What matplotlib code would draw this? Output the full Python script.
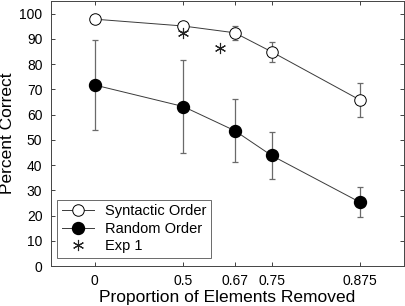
import numpy as np
import matplotlib
matplotlib.use("Agg")
import matplotlib.pyplot as plt

plt.rcParams['font.family'] = ['Liberation Sans', 'DejaVu Sans']

# data
proportion = [0, 0.5, 2 / 3, 0.75, 0.875]
tick_labels = ['0', '0.5', '0.67', '0.75', '0.875']

syntactic = [97.8, 95.1, 92.4, 84.9, 65.8]
syntactic_err = [0.0, 0.0, 2.8, 4.0, 6.6]

random_order = [71.7, 63.2, 53.6, 43.8, 25.3]
random_err = [18.0, 18.4, 12.4, 9.3, 6.0]

exp1_x = [0.5, 0.625]
exp1_y = [92.5, 86.5]


# x axis is spaced by halvings of what is left: -log2(1 - p)
def halvings(p):
    return -np.log2(1 - np.asarray(p, dtype=float))


xs = halvings(proportion)
xe = halvings(exp1_x)

fig = plt.figure(figsize=(4.06, 3.06), dpi=100)
ax = fig.add_axes([0.1249, 0.1307, 0.8702, 0.866])

line_col = '#3a3a3a'
err_col = '#6a6a6a'

ax.errorbar(xs, syntactic, yerr=syntactic_err, fmt='none',
            ecolor=err_col, elinewidth=0.9, capsize=2.5, capthick=0.9, zorder=2)
ax.errorbar(xs, random_order, yerr=random_err, fmt='none',
            ecolor=err_col, elinewidth=0.9, capsize=2.5, capthick=0.9, zorder=2)

ax.plot(xs, syntactic, '-o', color=line_col, lw=0.7,
        mfc='white', mec='black', mew=0.7, ms=8.3, label='Syntactic Order', zorder=3)
ax.plot(xs, random_order, '-o', color=line_col, lw=0.7,
        mfc='black', mec='black', ms=8.6, label='Random Order', zorder=3)
ax.plot(xe, exp1_y, linestyle='none', marker=(6, 2, 0), color='#222222',
        ms=8, mew=0.8, label='Exp 1', zorder=4)

ax.set_xlim(-0.5, 3.5)
ax.set_ylim(0, 105)
ax.set_xticks(xs)
ax.set_xticklabels(tick_labels)
ax.set_yticks(np.arange(0, 101, 10))

ax.tick_params(direction='in', top=True, right=True, length=3, width=0.6,
               labelsize=10, pad=6, color='#222222')
for s in ax.spines.values():
    s.set_linewidth(0.7)
    s.set_color('#444444')

ax.set_xlabel('Proportion of Elements Removed', fontsize=12.5, labelpad=1)
ax.set_ylabel('Percent Correct', fontsize=12.5, labelpad=3)

leg = ax.legend(loc='lower left', bbox_to_anchor=(0.01, 0.02), fontsize=10.5,
                frameon=True, fancybox=False, edgecolor='#444444',
                handlelength=2.2, borderpad=0.3, labelspacing=0.25,
                handletextpad=0.8, borderaxespad=0.2)
leg.get_frame().set_linewidth(0.7)

fig.savefig('out.png', dpi=100)
